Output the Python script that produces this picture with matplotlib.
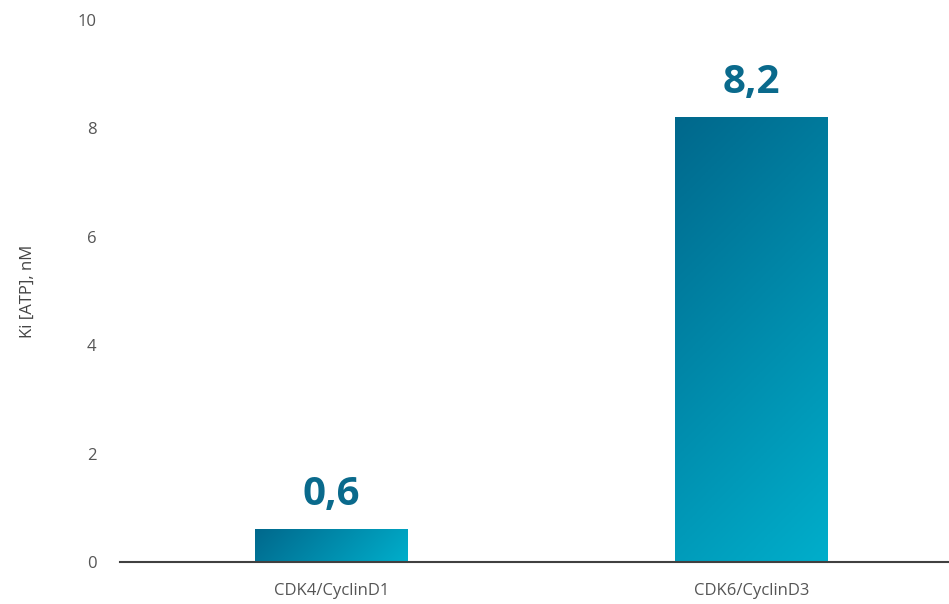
import numpy as np
from matplotlib import pyplot as plt
from matplotlib.colors import LinearSegmentedColormap

categories = ['CDK4/CyclinD1', 'CDK6/CyclinD3']
values = [0.6, 8.2]
value_labels = ['0,6', '8,2']

plt.rcParams['font.family'] = ['Open Sans', 'DejaVu Sans']

fig = plt.figure(figsize=(9.49, 6.04), dpi=100)
ax = fig.add_axes([0.1264, 0.0695, 0.8736, 0.8974])

cmap = LinearSegmentedColormap.from_list('teal', ['#00688c', '#00aecb'])
width = 0.364
x = np.arange(len(categories))

ax.set_xlim(-0.504, 1.47)
ax.set_ylim(0, 10)

# 45 degree gradient in screen space: dark top-left, light bottom-right
px_per_x = 829 / (1.47 + 0.504)
px_per_y = 542 / 10
for xi, val, lab in zip(x, values, value_labels):
    w_px = width * px_per_x
    h_px = val * px_per_y
    u, v = np.meshgrid(np.linspace(0, w_px, 200), np.linspace(0, h_px, 300))
    grad = (u + v) / (w_px + h_px)
    ax.imshow(grad, cmap=cmap, extent=(xi - width / 2, xi + width / 2, 0, val),
              origin='upper', aspect='auto', zorder=2, interpolation='bilinear')
    ax.text(xi, val + 0.28, lab, ha='center', va='bottom', fontsize=29,
            fontweight='bold', color='#0a6a8c')

ax.set_yticks([0, 2, 4, 6, 8, 10])
ax.set_xticks(x)
ax.set_xticklabels(categories)
ax.tick_params(axis='both', length=0, labelsize=12, colors='#555555')
ax.tick_params(axis='y', pad=17)
ax.tick_params(axis='x', pad=15)
for s in ['left', 'right', 'top']:
    ax.spines[s].set_visible(False)
ax.spines['bottom'].set_color('#404040')
ax.spines['bottom'].set_linewidth(1.5)
ax.spines['bottom'].set_zorder(3)
ax.set_ylabel('Ki [ATP], nM', fontsize=12, color='#444444', labelpad=30)

fig.savefig('out.png', dpi=100)
